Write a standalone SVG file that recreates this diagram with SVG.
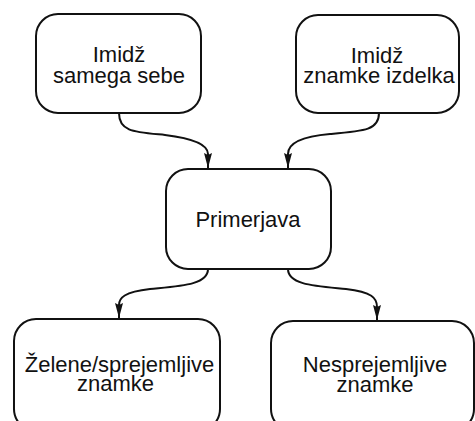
<svg xmlns="http://www.w3.org/2000/svg" width="475" height="421" viewBox="0 0 475 421">
<style>
.box{fill:#fff;stroke:#111;stroke-width:2}
.lbl{font-family:"Liberation Sans",Arial,sans-serif;font-size:22px;fill:#111;text-anchor:middle}
.con{fill:none;stroke:#111;stroke-width:2}
</style>
<defs>
<marker id="ah" markerUnits="userSpaceOnUse" markerWidth="16" markerHeight="10" viewBox="0 0 16 10" refX="15" refY="5" orient="auto">
<path d="M0,1 L15,5 L0,9 L2,5 Z" fill="#111"/>
</marker>
</defs>
<rect width="475" height="421" fill="#fff"/>
<g id="connectors">
<path class="con" d="M119,113 C119,132 135,132 165,135 C198,139 208,146 208,154 L208,168" marker-end="url(#ah)"/>
<path class="con" d="M379,113 C379,130 365,131 330,134 C295,137 288,146 288,154 L288,168" marker-end="url(#ah)"/>
<path class="con" d="M208,269 C208,285 180,286 150,289 C124,292 119,298 119,305 L119,318" marker-end="url(#ah)"/>
<path class="con" d="M288,269 C288,285 316,286 346,289 C372,292 377,298 377,307 L377,320" marker-end="url(#ah)"/>
</g>
<g id="n1">
<rect class="box" x="36" y="14" width="165" height="99" rx="22"/>
<text class="lbl" x="119" y="62">Imidž</text>
<text class="lbl" x="119" y="83">samega sebe</text>
</g>
<g id="n2">
<rect class="box" x="296" y="15" width="163" height="98" rx="22"/>
<text class="lbl" x="377" y="63">Imidž</text>
<text class="lbl" x="379" y="83">znamke izdelka</text>
</g>
<g id="n3">
<rect class="box" x="166" y="169" width="165" height="100" rx="22"/>
<text class="lbl" x="248" y="227">Primerjava</text>
</g>
<g id="n4">
<rect class="box" x="14" y="319" width="206" height="112" rx="22"/>
<text class="lbl" x="119.5" y="372">Želene/sprejemljive</text>
<text class="lbl" x="115.5" y="391">znamke</text>
</g>
<g id="n5">
<rect class="box" x="271" y="321" width="203" height="110" rx="22"/>
<text class="lbl" x="375" y="372">Nesprejemljive</text>
<text class="lbl" x="375" y="392">znamke</text>
</g>
</svg>
